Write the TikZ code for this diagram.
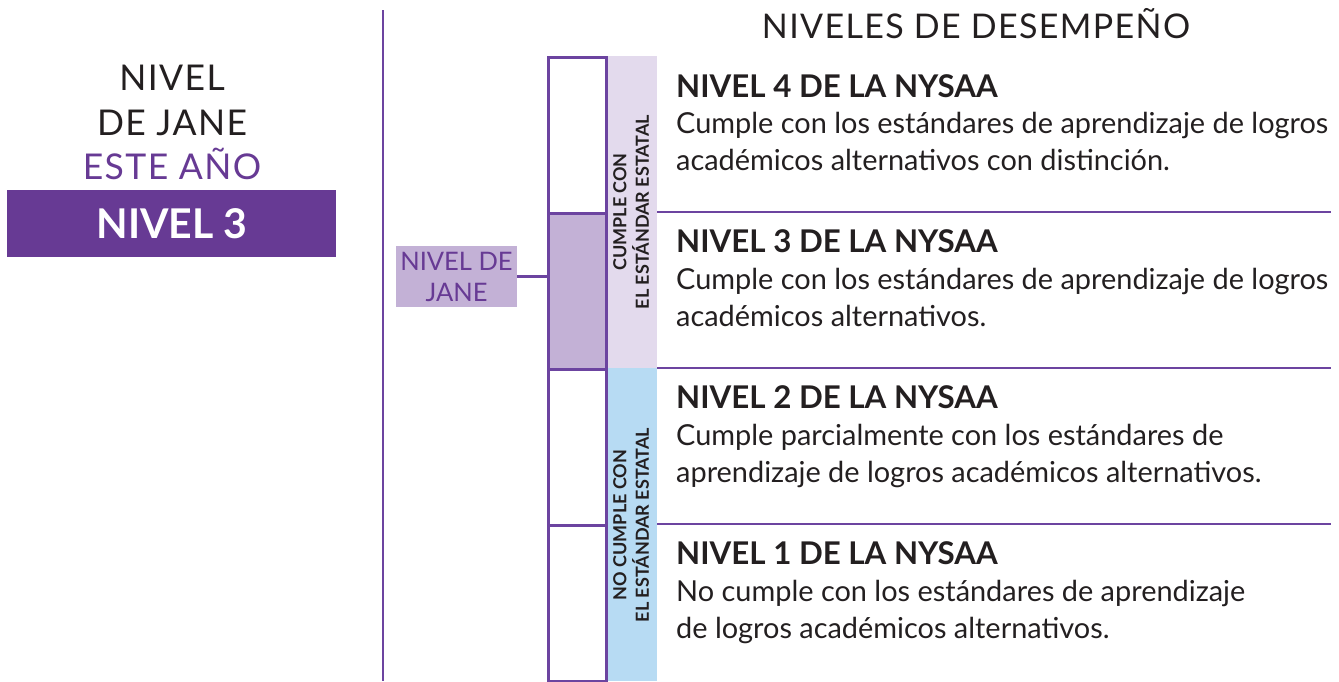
\documentclass[tikz,border=0pt]{standalone}
\usepackage{fontspec}
\setmainfont{Lato}
\newfontfamily\spacedfont[LetterSpace=4]{Lato}
\definecolor{dpurple}{HTML}{673A94}
\definecolor{linec}{HTML}{6C44A0}
\definecolor{lpurple}{HTML}{C3B1D6}
\definecolor{lav}{HTML}{E3DAED}
\definecolor{lblue}{HTML}{B7DBF3}
\definecolor{txt}{HTML}{231F20}
\tikzset{
  rule/.style={draw=linec, line width=2.6pt},
  lvlbox/.style={draw=linec, line width=2.6pt, minimum width=58pt, minimum height=156pt, inner sep=0pt, anchor=north west},
  head/.style={anchor=base west, inner sep=0pt, text=txt, font=\fontsize{31.3}{34}\selectfont\bfseries},
  body/.style={anchor=base west, inner sep=0pt, text=txt, font=\fontsize{28.9}{34}\selectfont},
  left/.style={anchor=base, inner sep=0pt, font=\spacedfont\fontsize{35.5}{40}\selectfont},
  band/.style={rotate=90, align=center, text=txt, font=\fontsize{18}{22.5}\selectfont\bfseries, inner sep=0pt}
}
\begin{document}
\begin{tikzpicture}[x=1pt,y=-1pt]
\useasboundingbox (0,0) rectangle (1339,681);
% bands
\fill[lav] (605,56) rectangle (657,368);
\fill[lblue] (605,368) rectangle (657,681);
% left vertical rule
\coordinate (vtop) at (383,10);
\coordinate (vbot) at (383,681);
\draw[rule] (vtop) -- (vbot);
% left block
\node[left, text=txt] (l1) at (172,90) {NIVEL};
\node[left, text=txt] (l2) at (172,135) {DE JANE};
\node[left, text=dpurple] (l3) at (172,179) {ESTE AÑO};
\node[fill=dpurple, minimum width=329pt, minimum height=67pt, inner sep=0pt, anchor=north west] (l4box) at (7,190) {};
\node[anchor=base, inner sep=0pt, text=white, font=\fontsize{41}{44}\selectfont\bfseries] (l4) at (172,238) {NIVEL 3};
% level boxes
\node[lvlbox] (b4) at (547,56) {};
\node[lvlbox, fill=lpurple] (b3) at (547,212) {};
\node[lvlbox] (b2) at (547,368) {};
\node[lvlbox] (b1) at (547,524) {};
% jane marker
\node[fill=lpurple, minimum width=121pt, minimum height=61pt, inner sep=0pt, align=center, text=dpurple, font=\fontsize{25.5}{31}\selectfont] (jane) at (456.5,276.5) {NIVEL DE\\JANE};
\draw[rule] (jane.east) -- (jane.east -| b3.west);
% band texts
\node[band] (c1) at (631,212) {CUMPLE CON\\EL ESTÁNDAR ESTATAL};
\node[band] (c2) at (631,525) {NO CUMPLE CON\\EL ESTÁNDAR ESTATAL};
% dividers
\coordinate (d3a) at (657,212); \coordinate (d3b) at (1331,212);
\coordinate (d2a) at (657,368); \coordinate (d2b) at (1331,368);
\coordinate (d1a) at (657,524); \coordinate (d1b) at (1331,524);
\draw[rule] (d3a) -- (d3b);
\draw[rule] (d2a) -- (d2b);
\draw[rule] (d1a) -- (d1b);
% title
\node[anchor=base, inner sep=0pt, text=txt, font=\spacedfont\fontsize{34}{38}\selectfont] (title) at (976,38) {NIVELES DE DESEMPEÑO};
% descriptions
\node[head] (h4) at (676,97) {NIVEL 4 DE LA NYSAA};
\node[body] (h4a) at (676,133) {Cumple con los estándares de aprendizaje de logros};
\node[body] (h4b) at (676,170) {académicos alternativos con distinción.};
\node[head] (h3) at (676,252) {NIVEL 3 DE LA NYSAA};
\node[body] (h3a) at (676,289) {Cumple con los estándares de aprendizaje de logros};
\node[body] (h3b) at (676,326) {académicos alternativos.};
\node[head] (h2) at (676,408) {NIVEL 2 DE LA NYSAA};
\node[body] (h2a) at (676,445) {Cumple parcialmente con los estándares de};
\node[body] (h2b) at (676,482) {aprendizaje de logros académicos alternativos.};
\node[head] (h1) at (676,564) {NIVEL 1 DE LA NYSAA};
\node[body] (h1a) at (676,601) {No cumple con los estándares de aprendizaje};
\node[body] (h1b) at (676,638) {de logros académicos alternativos.};
\end{tikzpicture}
\end{document}
